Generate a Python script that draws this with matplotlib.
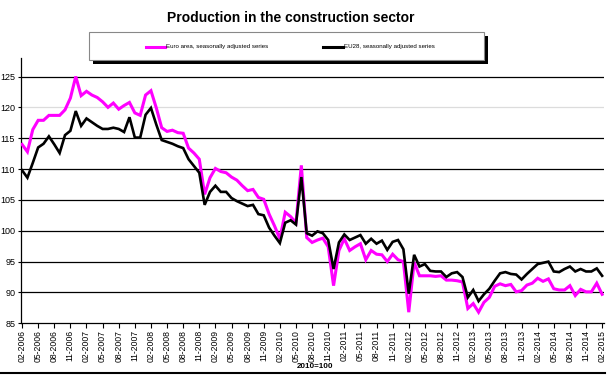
import matplotlib
matplotlib.use("Agg")
import matplotlib.pyplot as plt
from matplotlib.patches import Rectangle
from matplotlib.lines import Line2D
import pandas as pd

# ---------------- data ----------------
months = [p.strftime("%m-%Y") for p in pd.period_range("2006-02", "2015-02", freq="M")]

euro_area = [114.0, 112.8, 116.4, 117.9, 117.9, 118.7, 118.7, 118.7, 119.6, 121.5,
             125.0, 121.9, 122.6, 122.0, 121.6, 120.9, 120.0, 120.7, 119.7, 120.3,
             120.8, 119.1, 118.7, 122.0, 122.7, 119.9, 116.7, 116.1, 116.3, 115.9,
             115.8, 113.4, 112.6, 111.6, 105.9, 108.6, 110.1, 109.6, 109.4, 108.7,
             108.2, 107.3, 106.5, 106.7, 105.4, 105.1, 102.7, 100.8, 98.7, 103.0,
             102.3, 101.3, 110.6, 98.9, 98.1, 98.5, 98.8, 97.4, 91.1, 96.8,
             98.7, 96.8, 97.4, 97.9, 95.3, 96.8, 96.2, 96.1, 95.0, 96.2,
             95.3, 95.0, 86.8, 94.9, 92.7, 92.7, 92.7, 92.6, 92.7, 92.0,
             92.0, 91.9, 91.7, 87.4, 88.2, 86.8, 88.4, 89.2, 91.0, 91.4,
             91.1, 91.3, 90.1, 90.3, 91.2, 91.5, 92.3, 91.8, 92.2, 90.6,
             90.4, 90.4, 91.1, 89.5, 90.5, 90.1, 90.1, 91.5, 89.7]

eu28 = [109.8, 108.6, 111.0, 113.5, 114.1, 115.3, 114.0, 112.6, 115.5, 116.2,
        119.4, 117.0, 118.2, 117.6, 117.0, 116.5, 116.5, 116.7, 116.5, 116.0,
        118.4, 115.1, 115.1, 118.8, 119.9, 117.2, 114.7, 114.4, 114.1, 113.7,
        113.4, 111.6, 110.5, 109.4, 104.2, 106.3, 107.3, 106.3, 106.3, 105.3,
        104.8, 104.4, 104.0, 104.2, 102.7, 102.5, 100.5, 99.2, 98.0, 101.3,
        101.7, 101.0, 108.7, 99.6, 99.2, 99.9, 99.6, 98.5, 93.8, 98.1,
        99.4, 98.5, 98.9, 99.3, 97.9, 98.7, 97.9, 98.4, 96.9, 98.2,
        98.5, 97.0, 89.8, 96.1, 94.2, 94.6, 93.5, 93.4, 93.4, 92.5,
        93.1, 93.3, 92.5, 89.2, 90.4, 88.6, 89.7, 90.6, 91.9, 93.1,
        93.3, 93.0, 92.9, 92.1, 93.0, 93.8, 94.6, 94.8, 95.0, 93.4,
        93.3, 93.8, 94.2, 93.4, 93.8, 93.4, 93.4, 93.9, 92.7]

series_labels = ["Euro area, seasonally adjusted series", "EU28, seasonally adjusted series"]
y_ticks = [85, 90, 95, 100, 105, 110, 115, 120, 125]
title = "Production in the construction sector"
base_note = "2010=100"

# ---------------- figure ----------------
plt.rcParams['font.family'] = ['Liberation Sans', 'DejaVu Sans']
W, H = 610, 376
fig = plt.figure(figsize=(W / 100, H / 100), dpi=100)

def fx(x):
    return x / W

def fy(y):
    return 1 - y / H

left, right, top, bottom = 20.7, 604, 58, 323.3
ax = fig.add_axes([fx(left), fy(bottom), fx(right) - fx(left), fy(top) - fy(bottom)])

x = list(range(len(months)))
ax.plot(x, euro_area, color="#FF00FF", lw=2.2, zorder=3, solid_joinstyle="miter")
ax.plot(x, eu28, color="black", lw=1.9, zorder=4, solid_joinstyle="miter")

ax.set_xlim(-0.25, len(months) - 1 + 0.35)
ax.set_ylim(85, 128)

for v in y_ticks[1:]:
    col = "#dcdcdc" if v == 120 else "black"
    ax.axhline(v, color=col, lw=0.9, zorder=1)

tick_pos = x[::3]
ax.set_xticks(tick_pos)
ax.set_xticklabels([months[i] for i in tick_pos], rotation=90, fontsize=6.2)
ax.set_yticks(y_ticks)
ax.set_yticklabels([str(v) for v in y_ticks], fontsize=6.5)
ax.tick_params(axis="x", direction="out", length=3.5, width=0.8, pad=1.5)
ax.tick_params(axis="y", direction="out", length=2.5, width=0.8, pad=1.5)

for s in ["top", "right"]:
    ax.spines[s].set_visible(False)
ax.spines["left"].set_linewidth(0.9)
ax.spines["bottom"].set_linewidth(0.9)

# title
fig.text(fx(291), fy(18), title, ha="center", va="center", fontsize=10, fontweight="bold")

# legend box with shadow
bx0, by0, bx1, by1 = 89, 32, 484, 60
fig.add_artist(Rectangle((fx(bx0 + 4), fy(by1 + 4)), fx(bx1 - bx0), fy(by0) - fy(by1),
                         transform=fig.transFigure, facecolor="black", edgecolor="none", zorder=5))
fig.add_artist(Rectangle((fx(bx0), fy(by1)), fx(bx1 - bx0), fy(by0) - fy(by1),
                         transform=fig.transFigure, facecolor="white", edgecolor="#888888",
                         lw=0.8, zorder=6))
ly = 46.5
fig.add_artist(Line2D([fx(146), fx(165)], [fy(ly), fy(ly)], transform=fig.transFigure,
                      color="#FF00FF", lw=2.2, zorder=7))
fig.text(fx(166), fy(ly), series_labels[0], ha="left", va="center", fontsize=4.4, zorder=7)
fig.add_artist(Line2D([fx(323), fx(343)], [fy(ly), fy(ly)], transform=fig.transFigure,
                      color="black", lw=2.2, zorder=7))
fig.text(fx(344), fy(ly), series_labels[1], ha="left", va="center", fontsize=4.4, zorder=7)

# base note and bottom rule
fig.text(fx(315), fy(366), base_note, ha="center", va="center", fontsize=5.8, fontweight="bold")
fig.add_artist(Line2D([0, fx(605)], [fy(373), fy(373)], transform=fig.transFigure,
                      color="black", lw=1.5))

fig.savefig("out.png", dpi=100)
